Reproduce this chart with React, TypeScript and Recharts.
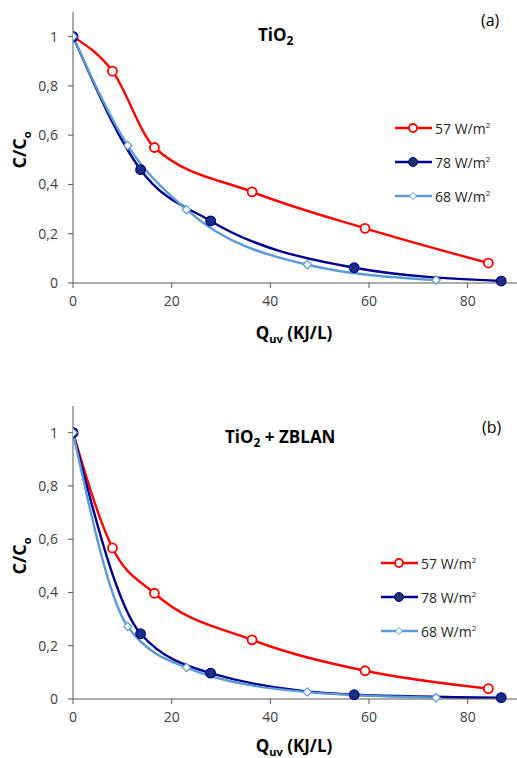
import React from 'react';
import { LineChart, Line, XAxis, YAxis } from 'recharts';

// Q_uv (KJ/L) sample points per irradiance
const q57 = [0, 8, 16.5, 36.3, 59.2, 84.2];
const q78 = [0, 13.7, 27.9, 57.0, 86.8];
const q68 = [0, 11.1, 23.0, 47.5, 73.6];

// (a) TiO2
const tio2_57 = [1, 0.86, 0.55, 0.37, 0.222, 0.081];
const tio2_78 = [1, 0.46, 0.252, 0.062, 0.008];
const tio2_68 = [1, 0.558, 0.298, 0.074, 0.012];

// (b) TiO2 + ZBLAN
const zblan_57 = [1, 0.567, 0.397, 0.222, 0.106, 0.039];
const zblan_78 = [1, 0.245, 0.097, 0.016, 0.005];
const zblan_68 = [1, 0.272, 0.118, 0.026, 0.005];

const xTicks = [0, 20, 40, 60, 80];
const yTicks = [0, 0.2, 0.4, 0.6, 0.8, 1];
const seriesNames = ['57', '78', '68'];

const RED = '#ff0000';
const NAVY = '#000090';
const LIGHT = '#5b9bd5';
const FONT = '"Open Sans", "Noto Sans", sans-serif';

const toPoints = (xs: number[], ys: number[]) => xs.map((x, i) => ({ x, y: ys[i] }));

const openCircle = (p: any) => (
  <circle key={`r-${p.index}`} cx={p.cx} cy={p.cy} r={4.5} fill="#fff" stroke={RED} strokeWidth={1.8} />
);
const filledCircle = (p: any) => (
  <circle key={`n-${p.index}`} cx={p.cx} cy={p.cy} r={4.8} fill="#1a2f80" stroke={NAVY} strokeWidth={1.2} />
);
const diamond = (p: any) => {
  const s = 4.2;
  return (
    <polygon
      key={`l-${p.index}`}
      points={`${p.cx},${p.cy - s} ${p.cx + s},${p.cy} ${p.cx},${p.cy + s} ${p.cx - s},${p.cy}`}
      fill="#fff"
      stroke={LIGHT}
      strokeWidth={1.2}
    />
  );
};

const fmtY = (v: number) => String(v).replace('.', ',');

const tickStyle = { fontSize: 14, fill: '#404040', fontFamily: FONT };

type PanelProps = {
  top: number;
  height: number;
  marginTop: number;
  xAxisHeight: number;
  s57: number[];
  s78: number[];
  s68: number[];
};

const Panel = ({ top, height, marginTop, xAxisHeight, s57, s78, s68 }: PanelProps) => (
  <div style={{ position: 'absolute', left: 0, top }}>
    <LineChart width={517} height={height} margin={{ top: marginTop, right: 0, left: 0, bottom: 0 }}>
      <XAxis
        type="number"
        dataKey="x"
        domain={[0, 90]}
        ticks={xTicks}
        height={xAxisHeight}
        tickSize={5}
        tickMargin={8}
        tick={tickStyle}
        stroke="#595959"
        allowDataOverflow
      />
      <YAxis
        type="number"
        dataKey="y"
        domain={[0, 1.1]}
        ticks={yTicks}
        width={73}
        tickSize={5}
        tickMargin={10}
        tick={tickStyle}
        tickFormatter={fmtY}
        stroke="#595959"
      />
      <Line data={toPoints(q57, s57)} dataKey="y" type="monotone" stroke={RED} strokeWidth={2.4} dot={openCircle} isAnimationActive={false} />
      <Line data={toPoints(q78, s78)} dataKey="y" type="monotone" stroke={NAVY} strokeWidth={2.4} dot={filledCircle} isAnimationActive={false} />
      <Line data={toPoints(q68, s68)} dataKey="y" type="monotone" stroke={LIGHT} strokeWidth={2.4} dot={diamond} isAnimationActive={false} />
    </LineChart>
  </div>
);

const legendIcons = [
  (cx: number, cy: number) => <circle cx={cx} cy={cy} r={4} fill="#fff" stroke={RED} strokeWidth={1.8} />,
  (cx: number, cy: number) => <circle cx={cx} cy={cy} r={4.5} fill="#1f3468" stroke={NAVY} strokeWidth={1} />,
  (cx: number, cy: number) => (
    <polygon points={`${cx},${cy - 3.5} ${cx + 3.5},${cy} ${cx},${cy + 3.5} ${cx - 3.5},${cy}`} fill="#fff" stroke={LIGHT} strokeWidth={1} />
  ),
];
const legendColors = [RED, NAVY, LIGHT];

const LegendBox = ({ left, top, gap }: { left: number; top: number; gap: number }) => (
  <div style={{ position: 'absolute', left, top, fontFamily: FONT, fontSize: 14, color: '#262626' }}>
    {seriesNames.map((n, i) => (
      <div key={n} style={{ display: 'flex', alignItems: 'center', height: gap }}>
        <svg width={38} height={12} style={{ display: 'block' }}>
          <line x1={0} y1={6} x2={37} y2={6} stroke={legendColors[i]} strokeWidth={2.4} />
          {legendIcons[i](18, 6)}
        </svg>
        <span style={{ marginLeft: 2 }}>
          {n} W/m<sup style={{ fontSize: 8 }}>2</sup>
        </span>
      </div>
    ))}
  </div>
);

const abs = (left: number, top: number, extra: React.CSSProperties = {}): React.CSSProperties => ({
  position: 'absolute',
  left,
  top,
  fontFamily: FONT,
  whiteSpace: 'nowrap',
  lineHeight: 1,
  ...extra,
});

const YLabel = ({ cy }: { cy: number }) => (
  <div style={abs(21, cy, { transform: 'translate(-50%, -50%) rotate(-90deg)', fontWeight: 700, fontSize: 18, color: '#000' })}>
    C/C<sub style={{ fontSize: 11 }}>o</sub>
  </div>
);

const XLabel = ({ top }: { top: number }) => (
  <div style={abs(294, top, { transform: 'translate(-50%, -50%)', fontWeight: 700, fontSize: 17, color: '#000' })}>
    Q<sub style={{ fontSize: 11 }}>uv</sub> (KJ/L)
  </div>
);

export default function App() {
  return (
    <div style={{ position: 'absolute', left: 0, top: 0, width: 517, height: 758, background: '#fff' }}>
      <Panel top={0} height={345} marginTop={12} xAxisHeight={62} s57={tio2_57} s78={tio2_78} s68={tio2_68} />
      <Panel top={380} height={378} marginTop={26} xAxisHeight={59} s57={zblan_57} s78={zblan_78} s68={zblan_68} />

      <div style={abs(258, 26, { fontWeight: 700, fontSize: 17 })}>
        TiO<sub style={{ fontSize: 12 }}>2</sub>
      </div>
      <div style={abs(225, 428, { fontWeight: 700, fontSize: 17 })}>
        TiO<sub style={{ fontSize: 12 }}>2</sub> + ZBLAN
      </div>
      <div style={abs(481, 12, { fontSize: 16 })}>(a)</div>
      <div style={abs(482, 419, { fontSize: 16 })}>(b)</div>

      <LegendBox left={395} top={111} gap={34} />
      <LegendBox left={381} top={546} gap={34} />

      <YLabel cy={150} />
      <YLabel cy={556} />
      <XLabel top={334} />
      <XLabel top={747} />
    </div>
  );
}
